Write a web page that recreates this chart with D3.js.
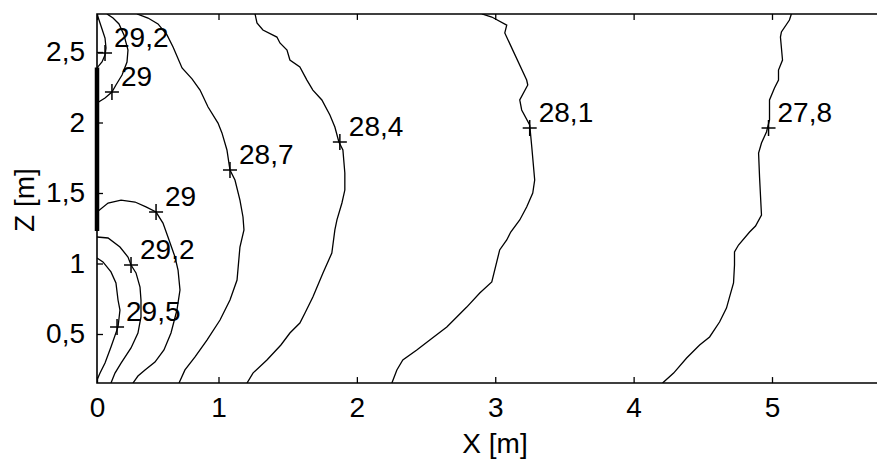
<!DOCTYPE html>
<html lang="en">
<head>
  <meta charset="UTF-8">
  <title>Temperature contours X-Z</title>
  <script src="https://d3js.org/d3.v7.min.js"></script>
  <style>
    body { margin: 0; background: #fff; }
    svg { display: block; font-family: "Liberation Sans", Arial, sans-serif; }
  </style>
</head>
<body>
  <svg width="877" height="461"></svg>

  <script>
    // axis ticks
    const xTicks = [0, 1, 2, 3, 4, 5];
    const zTicks = [0.5, 1, 1.5, 2, 2.5];
    const xRange = [0, 5.8];
    const zRange = [0.152, 2.77];

    // heated wall section on the left edge (z from / to)
    const wall = [1.23, 2.39];

    // contour lines, [x, z] in metres
    const c27_8 = [[5.14,2.77],[5.126,2.727],[5.068,2.642],[5.061,2.606],[5.076,2.443],[5.047,2.372],[5.047,2.301],
      [5.018,2.245],[4.982,2.16],[4.982,2.018],[4.96,1.933],[4.924,1.855],[4.903,1.784],[4.91,1.613],[4.924,1.344],
      [4.881,1.266],[4.838,1.223],[4.758,1.131],[4.729,1.082],[4.729,0.989],[4.722,0.862],[4.693,0.762],[4.671,0.684],
      [4.621,0.585],[4.549,0.479],[4.477,0.422],[4.383,0.33],[4.289,0.223],[4.209,0.152]];
    const c28_1 = [[2.903,2.77],[2.975,2.748],[3.083,2.691],[3.069,2.635],[3.227,2.301],[3.235,2.266],[3.177,2.16],
      [3.191,2.089],[3.249,1.982],[3.264,1.826],[3.285,1.592],[3.271,1.5],[3.227,1.401],[3.177,1.309],[3.112,1.223],
      [3.083,1.167],[3.032,1.096],[2.975,0.869],[2.888,0.791],[2.794,0.691],[2.65,0.55],[2.527,0.457],[2.433,0.387],
      [2.332,0.316],[2.289,0.245],[2.253,0.152]];
    const c28_4 = [[1.264,2.77],[1.278,2.706],[1.321,2.656],[1.422,2.606],[1.444,2.564],[1.495,2.514],[1.516,2.443],
      [1.588,2.394],[1.639,2.301],[1.682,2.23],[1.747,2.16],[1.805,2.053],[1.841,1.968],[1.87,1.862],[1.899,1.805],
      [1.913,1.642],[1.913,1.521],[1.892,1.429],[1.856,1.309],[1.841,1.238],[1.819,1.074],[1.755,0.933],[1.682,0.762],
      [1.625,0.649],[1.588,0.578],[1.516,0.507],[1.451,0.422],[1.35,0.316],[1.249,0.223],[1.206,0.152]];
    const c28_7 = [[0.329,2.77],[0.42,2.741],[0.502,2.699],[0.576,2.621],[0.626,2.535],[0.7,2.387],[0.782,2.309],
      [0.848,2.23],[0.914,2.11],[0.996,1.996],[1.025,1.926],[1.061,1.805],[1.083,1.663],[1.119,1.592],[1.155,1.45],
      [1.177,1.33],[1.184,1.238],[1.155,1.117],[1.134,0.883],[1.083,0.741],[1.011,0.599],[0.905,0.457],[0.807,0.337],
      [0.724,0.245],[0.675,0.152]];
    const c29_low = [[0,1.365],[0.091,1.429],[0.198,1.45],[0.313,1.436],[0.403,1.401],[0.486,1.365],[0.543,1.287],
      [0.584,1.188],[0.642,1.046],[0.667,0.954],[0.683,0.812],[0.658,0.67],[0.609,0.507],[0.551,0.387],[0.477,0.301],
      [0.395,0.245],[0.337,0.202],[0.296,0.152]];
    const c29_2low = [[0,1.188],[0.091,1.181],[0.189,1.117],[0.255,1.046],[0.28,0.989],[0.321,0.933],[0.354,0.833],
      [0.362,0.741],[0.362,0.621],[0.337,0.507],[0.28,0.401],[0.198,0.294],[0.148,0.223],[0.115,0.152]];
    const c29_5 = [[0,1.039],[0.049,1.011],[0.115,0.94],[0.156,0.862],[0.173,0.741],[0.189,0.67],[0.173,0.55],
      [0.115,0.408],[0.066,0.294],[0.025,0.223],[0,0.174]];
    const c29_2up = [[0,2.77],[0.033,2.684],[0.066,2.599],[0.074,2.528],[0.066,2.479],[0.041,2.429],[0,2.387]];
    const c29_up = [[0.082,2.77],[0.132,2.741],[0.181,2.699],[0.222,2.621],[0.255,2.514],[0.247,2.429],[0.206,2.337],
      [0.156,2.266],[0.123,2.216],[0.066,2.174],[0,2.138]];

    const contours = [c27_8, c28_1, c28_4, c28_7, c29_low, c29_2low, c29_5, c29_2up, c29_up];

    // contour labels: text and "+" position [x, z]
    const labelText = ["27,8", "28,1", "28,4", "28,7", "29", "29,2", "29,5", "29,2", "29"];
    const labelPos = [[4.975,1.961],[3.249,1.961],[1.877,1.862],[1.083,1.663],[0.486,1.365],
      [0.28,0.989],[0.165,0.55],[0.066,2.493],[0.123,2.216]];

    const svg = d3.select("svg");
    const W = 877;

    // x ticks 1..5 are evenly spaced, 0 sits a bit closer in the original
    const x = d3.scaleLinear().domain([0, 1, 5]).range([97, 218.5, 772]);
    const y = d3.scaleLinear().domain([0.5, 2.5]).range([334, 52]);

    const x0 = x(xRange[0]), yTop = y(zRange[1]), yBot = y(zRange[0]);

    svg.append("clipPath").attr("id", "plot")
      .append("rect")
      .attr("x", x0).attr("y", yTop)
      .attr("width", W - x0).attr("height", yBot - yTop);

    const fmt = d => String(d).replace(".", ",");

    // axes with inward ticks
    const gx = svg.append("g")
      .attr("transform", `translate(0,${yBot})`)
      .call(d3.axisBottom(x).tickValues(xTicks).tickSizeInner(-6).tickSizeOuter(0)
        .tickPadding(14).tickFormat(fmt));
    svg.append("g")
      .attr("transform", `translate(0,${yTop})`)
      .call(d3.axisTop(x).tickValues(xTicks).tickSizeInner(-6).tickSizeOuter(0).tickFormat(""));
    const gy = svg.append("g")
      .attr("transform", `translate(${x0},0)`)
      .call(d3.axisLeft(y).tickValues(zTicks).tickSizeInner(-6).tickSizeOuter(0)
        .tickPadding(12).tickFormat(fmt));

    svg.selectAll(".domain").remove();
    svg.selectAll(".tick line").attr("stroke", "#000").attr("stroke-width", 1.3);
    svg.selectAll(".tick text")
      .attr("font-size", 28)
      .attr("font-family", "'Liberation Sans', Arial, sans-serif")
      .attr("fill", "#000");

    // frame (right side runs off the picture)
    svg.append("path")
      .attr("d", `M${W},${yTop}H${x0}V${yBot}H${W}`)
      .attr("fill", "none")
      .attr("stroke", "#000")
      .attr("stroke-width", 1.6);

    // wall
    svg.append("line")
      .attr("x1", x0).attr("x2", x0)
      .attr("y1", y(wall[0])).attr("y2", y(wall[1]))
      .attr("stroke", "#000")
      .attr("stroke-width", 4.5);

    const line = d3.line().x(d => x(d[0])).y(d => y(d[1]));

    svg.append("g")
      .attr("clip-path", "url(#plot)")
      .selectAll("path")
      .data(contours)
      .join("path")
      .attr("d", line)
      .attr("fill", "none")
      .attr("stroke", "#000")
      .attr("stroke-width", 1.3);

    // "+" markers and labels
    const lab = svg.append("g");
    lab.selectAll("path")
      .data(labelPos)
      .join("path")
      .attr("d", d => {
        const px = x(d[0]), py = y(d[1]);
        return `M${px - 7},${py}H${px + 7}M${px},${py - 8}V${py + 8}`;
      })
      .attr("stroke", "#000")
      .attr("stroke-width", 1.5);

    lab.selectAll("text")
      .data(labelPos)
      .join("text")
      .attr("x", d => x(d[0]) + 9)
      .attr("y", d => y(d[1]) - 6)
      .attr("font-size", 28)
      .text((d, i) => labelText[i]);

    // axis titles
    svg.append("text")
      .attr("x", 495)
      .attr("y", 453)
      .attr("text-anchor", "middle")
      .attr("font-size", 28)
      .text("X [m]");

    svg.append("text")
      .attr("transform", "translate(34,200) rotate(-90)")
      .attr("text-anchor", "middle")
      .attr("font-size", 28)
      .text("Z [m]");
  </script>
</body>
</html>
